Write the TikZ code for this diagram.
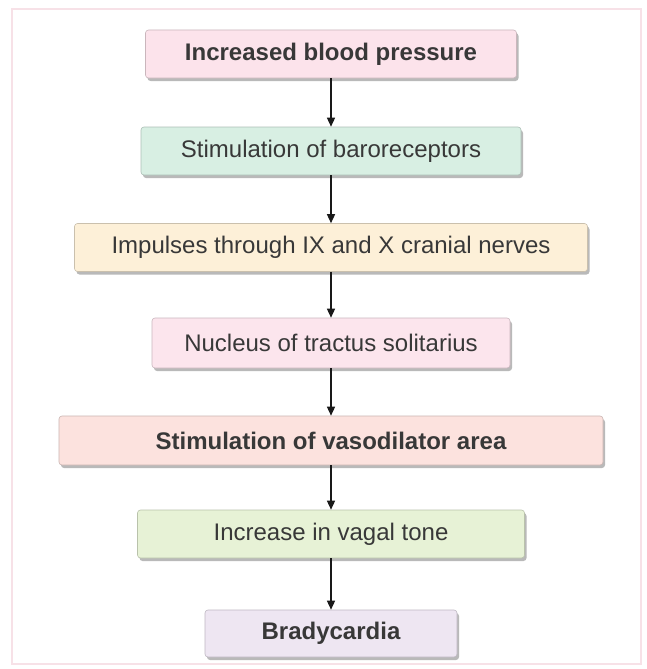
\documentclass[tikz,border=0pt]{standalone}
\usepackage{fontspec}
\setmainfont{Liberation Sans}
\usetikzlibrary{arrows.meta,shadows}
\definecolor{framepink}{HTML}{F7E1E7}
\definecolor{txt}{HTML}{383838}
\definecolor{cA}{HTML}{FCE3EB}
\definecolor{cB}{HTML}{D8EFE3}
\definecolor{cC}{HTML}{FDF0D8}
\definecolor{cD}{HTML}{FCE5ED}
\definecolor{cE}{HTML}{FCE2DE}
\definecolor{cF}{HTML}{E7F2D6}
\definecolor{cG}{HTML}{EEE6F2}
\tikzset{
  box/.style={fill=#1, draw=#1!80!black, line width=0.6pt, rounded corners=3pt,
    minimum height=48pt, inner sep=0pt, text=txt,
    font=\fontsize{24}{28}\selectfont,
    drop shadow={shadow xshift=2pt, shadow yshift=-3pt, fill=black!50, opacity=0.55}},
  arr/.style={draw=black!90, line width=1.4pt, -{Triangle[length=9pt,width=8pt]}}
}
\begin{document}
\begin{tikzpicture}[x=1pt,y=-1pt]
\useasboundingbox (0,0) rectangle (647,669);
\fill[white] (0,0) rectangle (647,669);
\draw[framepink, line width=1.2pt] (12,9) rectangle (641,664);
\node[box=cA, minimum width=371pt] (b1) at (331,54) {\bfseries Increased blood pressure};
\node[box=cB, minimum width=380pt] (b2) at (331,151) {Stimulation of baroreceptors};
\node[box=cC, minimum width=513pt] (b3) at (331,247.5) {Impulses through IX and X cranial nerves};
\node[box=cD, minimum width=358pt, minimum height=50pt] (b4) at (331,343) {Nucleus of tractus solitarius};
\node[box=cE, minimum width=544pt, minimum height=49pt] (b5) at (331,440.5) {\bfseries Stimulation of vasodilator area};
\node[box=cF, minimum width=387pt] (b6) at (331,534) {Increase in vagal tone};
\node[box=cG, minimum width=252pt, minimum height=47pt] (b7) at (331,633.5) {\bfseries Bradycardia};
\draw[arr] (b1.south) -- (b2.north);
\draw[arr] (b2.south) -- (b3.north);
\draw[arr] (b3.south) -- (b4.north);
\draw[arr] (b4.south) -- (b5.north);
\draw[arr] (b5.south) -- (b6.north);
\draw[arr] (b6.south) -- (b7.north);
\end{tikzpicture}
\end{document}
